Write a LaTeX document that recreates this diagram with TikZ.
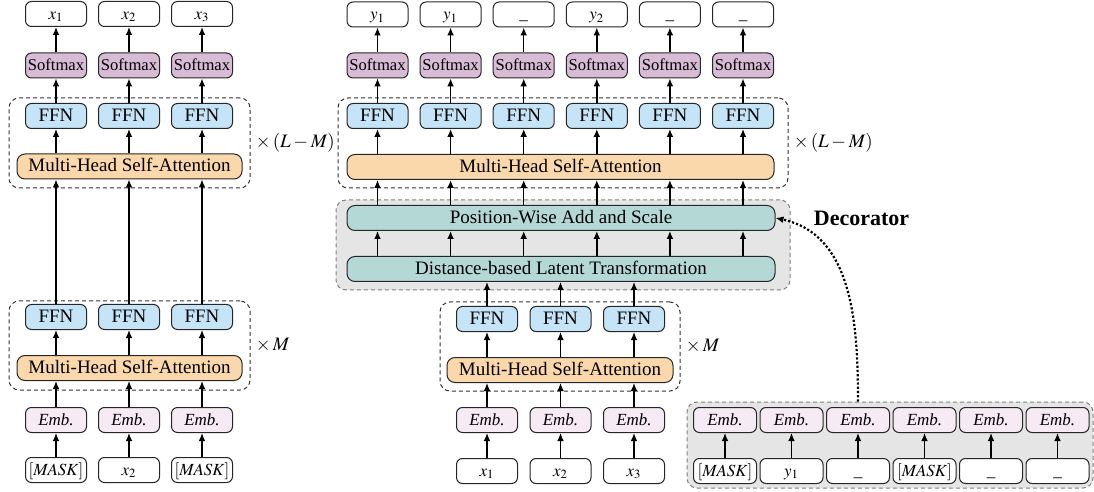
\documentclass[tikz,border=0pt]{standalone}
\usepackage{mathptmx}
\usepackage[no-math]{fontspec}
\setmainfont{Liberation Serif}
\usetikzlibrary{arrows.meta,positioning,fit}

\definecolor{smxfill}{RGB}{216,188,214}
\definecolor{ffnfill}{RGB}{197,228,247}
\definecolor{mhsafill}{RGB}{250,216,171}
\definecolor{embfill}{RGB}{246,235,244}
\definecolor{decfill}{RGB}{180,216,214}

\begin{document}
\begin{tikzpicture}[
  x=0.5pt,y=-0.5pt,
  font=\fontsize{9.5}{11}\selectfont,
  blk/.style={draw=black!85,rounded corners=3pt,line width=0.5pt,minimum width=30.5pt,minimum height=12.5pt,inner sep=0pt,text height=1.5ex,text depth=0.35ex},
  outbox/.style={blk,fill=white,font=\fontsize{8.5}{10}\selectfont},
  smx/.style={blk,fill=smxfill,font=\fontsize{8.3}{10}\selectfont},
  ffn/.style={blk,fill=ffnfill},
  mhsa/.style={blk,fill=mhsafill,rounded corners=4pt},
  emb/.style={blk,fill=embfill,font=\fontsize{8.5}{10}\selectfont\itshape},
  dec/.style={blk,fill=decfill,rounded corners=4pt},
  grp/.style={draw=black!80,dashed,dash pattern=on 2pt off 1.5pt,rounded corners=5pt,inner sep=0pt,line width=0.5pt},
  ggrp/.style={grp,draw=black!50,fill=black!10},
  rep/.style={inner sep=1pt,font=\fontsize{9.5}{11}\selectfont},
  >={Latex[length=4pt,width=3.4pt]}]
\useasboundingbox (0,0) rectangle (1094,492);

% shaded groups first
\node[ggrp,fit={(336,200) (790,290)}] (decgrp) {};
\node[ggrp,fit={(687,402) (1093,488)}] (dgrp) {};

% left: plain encoder
\foreach \i/\x in {1/56,2/129,3/202}{
  \node[outbox] (lout\i) at (\x,14) {$x_{\i}$};
  \node[smx] (lsm\i) at (\x,65.5) {Softmax};
  \node[ffn] (lffnA\i) at (\x,116) {FFN};
  \node[ffn] (lffnB\i) at (\x,317) {FFN};
  \node[emb] (lemb\i) at (\x,420) {Emb.};
}
\node[mhsa,minimum width=112.5pt] (lmhsaA) at (129.5,166.5) {Multi-Head Self-Attention};
\node[mhsa,minimum width=112.5pt] (lmhsaB) at (129.5,368) {Multi-Head Self-Attention};
\node[outbox] (lin1) at (56,470) {$[\mathit{MASK}]$};
\node[outbox] (lin2) at (129,470) {$x_2$};
\node[outbox] (lin3) at (202,470) {$[\mathit{MASK}]$};
\node[grp,fit={(9,98) (250,188)}] (lgrpA) {};
\node[grp,fit={(9,301) (250,390)}] (lgrpB) {};
\node[rep,right=1.5pt of lgrpA] (lrepA) {$\times\,(L-M)$};
\node[rep,right=1.5pt of lgrpB] (lrepB) {$\times\,M$};
\foreach \i in {1,2,3}{
  \draw[->,line width=0.7pt] (lin\i) -- (lemb\i);
  \draw[->,line width=0.7pt] (lemb\i) -- (lemb\i |- lmhsaB.south);
  \draw[->,line width=0.7pt] (lffnB\i |- lmhsaB.north) -- (lffnB\i);
  \draw[->,line width=0.7pt] (lffnB\i) -- (lffnB\i |- lmhsaA.south);
  \draw[->,line width=0.7pt] (lffnA\i |- lmhsaA.north) -- (lffnA\i);
  \draw[->,line width=0.7pt] (lffnA\i) -- (lsm\i);
  \draw[->,line width=0.7pt] (lsm\i) -- (lout\i);
}

% middle: decorated encoder
\foreach \i/\t [evaluate=\i as \x using 377.5+73.1*(\i-1)] in {1/$y_1$,2/$y_1$,3/\textunderscore,4/$y_2$,5/\textunderscore,6/\textunderscore}{
  \node[outbox] (mout\i) at (\x,14.5) {\t};
  \node[smx] (msm\i) at (\x,65.5) {Softmax};
  \node[ffn] (mffn\i) at (\x,116) {FFN};
}
\node[mhsa,minimum width=213.5pt] (mmhsa) at (560.5,167) {Multi-Head Self-Attention};
\node[dec,minimum width=214pt] (pwas) at (561,218) {Position-Wise Add and Scale};
\node[dec,minimum width=214pt] (dlt) at (561,269) {Distance-based Latent Transformation};
\foreach \i/\x/\t in {1/487/$x_1$,2/560.5/$x_2$,3/634/$x_3$}{
  \node[ffn] (bffn\i) at (\x,319) {FFN};
  \node[emb] (bemb\i) at (\x,420) {Emb.};
  \node[outbox] (bin\i) at (\x,471) {\t};
}
\node[mhsa,minimum width=113pt] (bmhsa) at (560,370) {Multi-Head Self-Attention};
\node[grp,fit={(338,98) (788,188)}] (mgrp) {};
\node[grp,fit={(440,302) (680,391)}] (bgrp) {};
\node[rep,right=1.5pt of mgrp] (mrep) {$\times\,(L-M)$};
\node[rep,right=1.5pt of bgrp] (brep) {$\times\,M$};
\foreach \i in {1,...,6}{
  \draw[->,line width=0.7pt] (mffn\i |- dlt.north) -- (mffn\i |- pwas.south);
  \draw[->,line width=0.7pt] (mffn\i |- pwas.north) -- (mffn\i |- mmhsa.south);
  \draw[->,line width=0.7pt] (mffn\i |- mmhsa.north) -- (mffn\i);
  \draw[->,line width=0.7pt] (mffn\i) -- (msm\i);
  \draw[->,line width=0.7pt] (msm\i) -- (mout\i);
}
\foreach \i in {1,2,3}{
  \draw[->,line width=0.7pt] (bin\i) -- (bemb\i);
  \draw[->,line width=0.7pt] (bemb\i) -- (bemb\i |- bmhsa.south);
  \draw[->,line width=0.7pt] (bffn\i |- bmhsa.north) -- (bffn\i);
  \draw[->,line width=0.7pt] (bffn\i) -- (bffn\i |- dlt.south);
}

% right: decorator inputs
\foreach \i/\t [evaluate=\i as \x using 725+66.5*(\i-1)] in {1/$[\mathit{MASK}]$,2/$y_1$,3/\textunderscore,4/$[\mathit{MASK}]$,5/\textunderscore,6/\textunderscore}{
  \node[emb,minimum width=31.5pt] (demb\i) at (\x,420) {Emb.};
  \node[outbox,minimum width=31.5pt] (din\i) at (\x,471) {\t};
  \draw[->,line width=0.7pt] (din\i) -- (demb\i);
}
\node[font=\bfseries\fontsize{11}{13}\selectfont,inner sep=1pt,right=18pt of pwas] (declbl) {Decorator};
\draw[->,densely dotted,line width=1.1pt] (dgrp.north -| demb3) to[out=90,in=-12] (pwas.east);
\end{tikzpicture}
\end{document}
